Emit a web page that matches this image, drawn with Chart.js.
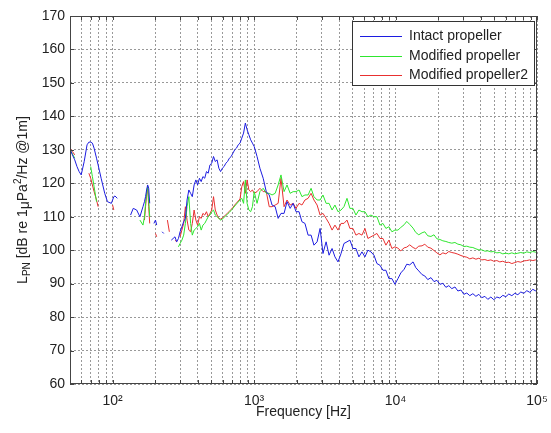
<!DOCTYPE html>
<html>
<head>
<meta charset="utf-8">
<script src="https://cdn.jsdelivr.net/npm/chart.js@4.4.1/dist/chart.umd.min.js"></script>
<style>
  html, body { margin: 0; padding: 0; background: #fff; }
  #wrap { width: 551px; height: 433px; position: relative; }
</style>
</head>
<body>
<div id="wrap"><canvas id="spectrumChart"></canvas></div>
<script>
// Tần số [Hz] - dùng chung cho cả 3 đường, null = không có dữ liệu
const freqs = [
    // 50 - 118 Hz
    50, 52, 54, 56, 58, 60, 63, 66, 68, 70,
    72, 74, 77, 79, 83, 88, 92, 98, 100, 102,
    104, 108, 118,
    // 134 - 238 Hz
    134, 140, 148, 156, 164, 168, 171, 174, 177, 180,
    183, 190, 196, 201, 205, 215, 224, 230, 238,
    // 244 - 1002 Hz
    244, 252, 260, 268, 276, 284, 292, 300, 309, 318,
    327, 336, 346, 356, 366, 377, 388, 399, 411, 423,
    435, 448, 461, 474, 488, 502, 517, 532, 548, 564,
    580, 597, 614, 632, 650, 669, 689, 709, 730, 751,
    773, 796, 819, 843, 868, 893, 919, 946, 974, 1002,
    // 1050 - 9900 Hz
    1050, 1100, 1160, 1220, 1280, 1340, 1410, 1480, 1550, 1630,
    1710, 1800, 1890, 1980, 2080, 2180, 2290, 2410, 2530, 2650,
    2790, 2930, 3070, 3230, 3390, 3560, 3730, 3920, 4120, 4320,
    4540, 4760, 5000, 5250, 5510, 5790, 6080, 6380, 6700, 7040,
    7390, 7760, 8150, 8550, 8980, 9430, 9900,
    // 10400 - 100000 Hz
    10400, 10900, 11500, 12000, 12600, 13300, 13900, 14600, 15400, 16100,
    16900, 17800, 18700, 19600, 20600, 21600, 22700, 23800, 25000, 26300,
    27600, 29000, 30400, 31900, 33500, 35200, 37000, 38800, 40700, 42800,
    44900, 47200, 49500, 52000, 54600, 57300, 60200, 63200, 66400, 69700,
    73200, 76800, 80700, 84700, 88900, 93400, 98000, 100000
];

// Intact propeller
const intact = [
    130.2, 128.5, 127, 125, 123.5, 122.5, 126.5, 131.5, 132.3, 132.3,
    132, 130.5, 127.5, 125.5, 121.5, 117, 114.5, 114, 115, 116,
    116.2, 115.5, null,
    110.5, 112.5, 112, 110, 113, 114.5, 116, 118, 119.5, 118.5,
    114, null, 108, 109, 107.5, null, 105.5, 105, null,
    null, null, 103, 103.5, 104, 102.5, 103.5, 105.5, 107, 108.5,
    109.5, 115, 118, 117, 116, 119.5, 121, 119.5, 121.5, 120.5,
    122, 121.5, 123.5, 123, 125.5, 126, 128, 126.5, 127, 124.5,
    123.5, 124.5, 125, 126, 126.5, 127.5, 128, 129, 130, 130.5,
    131.5, 132, 133.5, 135, 138, 136, 134.5, 133, 132, 131,
    128, 124.5, 121.5, 117.5, 116.5, 113.5, 113, 109.5, 111, 111,
    114.5, 112.5, 114, 111.5, 111.5, 108.5, 108, 104.5, 104.5, 101.5,
    102.5, 106.5, 99, 102.5, 98.5, 100.5, 98, 96.5, 99, 102,
    102.5, 103, 100.5, 100.5, 98, 99.5, 98, 100, 99.5, 98.5,
    96, 95.5, 94, 94, 91.5, 91.5, 89.8,
    91.5, 93.2, 94.3, 95.8, 95.6, 96.5, 94.8, 93.8, 92.7, 92.3,
    91.2, 91.8, 90.6, 91, 89.8, 90.1, 88.9, 89.4, 88.5, 89,
    87.8, 88.1, 86.8, 87.2, 86.4, 87, 86.2, 86.8, 85.8, 86.2,
    85.3, 86, 85.2, 86, 85.7, 86.5, 86.1, 86.9, 86.4, 87.1,
    86.7, 87.5, 87.1, 87.9, 87.4, 88.3, 87.8, 88.2
];

// Modified propeller
const modified = [
    130, 128.8, 127.5, null, null, null, null, null, null, 125,
    122, 119, 114.5, null, null, null, null, null, null, null,
    null, null, null,
    null, null, null, 109, 107.5, 110, 114, 117, 119, 115,
    110, null, null, null, null, null, null, null, null,
    null, null, null, null, null, null, 101, 102, 103, 104.5,
    108, 113, 116, 108, 104.5, 106, 106.5, 107, 108, 106,
    107.5, 108, 109, 110, 110.5, 111.5, 112, 110.5, 110, 109.5,
    109, 109.3, 109.8, 110.3, 110.8, 111.3, 111.9, 112.5, 113.2, 113.8,
    114.4, 115, 115.5, 114, 121, 114, 112, 111.5, 113, 117.5,
    114, 117.5, 118.5, 117, 117, 116.5, 117, 119.5, 122.5, 117.5,
    119.5, 117, 117.5, 117.5, 118, 116, 116.5, 116.5, 118.5, 116,
    115, 115, 116.5, 114, 114, 112, 113.5, 111.5, 112, 113,
    115.5, 112.5, 112.5, 110.5, 112, 111.5, 111.5, 110, 110.5, 110,
    110, 107.5, 108, 106.5, 107, 105.5, 106,
    106, 106.8, 107.6, 108.6, 107.7, 106.6, 105.3, 104.6, 105.2, 105.5,
    104.3, 104.1, 104.6, 103.4, 103.2, 102.8, 102.6, 102.3, 102.1, 102.3,
    101.8, 101.6, 101.1, 101.2, 100.9, 100.8, 100.4, 100.1, 100.1, 99.7,
    99.8, 99.5, 99.6, 99.2, 99.3, 98.9, 99.1, 98.9, 99.2, 98.9,
    99.1, 99.3, 99.1, 99.5, 99.3, 99.6, 99.4, 99.6
];

// Modified propeller2
const modified2 = [
    130.5, 129.5, 128.5, null, null, null, null, null, 123, 121.5,
    119.5, 117.5, 115, 113, null, null, null, null, 113.5, 112,
    null, null, null,
    null, null, null, null, null, 109, 113, 116.5, 119, 113,
    108, null, null, 105, 104, null, null, null, null,
    109, 105.5, null, null, 103, 102.5, null, 104, 106, 108,
    113, 109, 106, 105.5, 108, 112, 109, 107.5, 110, 109.5,
    111, 110.5, 111.5, 110, 111, 112, 116, 112, 110.5, 109.5,
    109.3, 109.6, 110.1, 110.6, 111.1, 111.6, 112.2, 112.8, 113.5, 114.1,
    114.7, 115.3, 119, 120.5, 117, 121, 118, 117.5, 118, 117,
    117.5, 118.5, 117.5, 117.5, 113, 113, 113.5, 114, 121.5, 113,
    115, 113.5, 114, 112.5, 114, 113.5, 115, 115.5, 117, 115,
    113.5, 110.5, 111, 109.5, 108, 106, 107.5, 106, 108, 108,
    109, 106.5, 106.5, 104.5, 105, 104.5, 106.5, 103.5, 104, 104.5,
    105, 103.5, 103.5, 101.5, 103, 100.5, 101,
    100.6, 99.8, 100.7, 100.9, 101.6, 100.8, 100.4, 101.2, 101.3, 101.8,
    100.9, 100.6, 99.9, 99.2, 98.6, 99.2, 98.9, 99.6, 99.3, 99.1,
    98.8, 98.4, 98.1, 97.9, 97.4, 97.7, 97.3, 97.6, 97.1, 97.2,
    96.9, 97.1, 96.7, 96.9, 96.5, 96.7, 96.3, 96.4, 96, 96.3,
    96.6, 96.4, 96.8, 96.9, 97.1, 96.9, 97.1, 97.1
];

const seriesNames = ['Intact propeller', 'Modified propeller', 'Modified propeller2'];

// Vạch chia trục x (log) và trục y
const xTickValues = [
    50, 60, 70, 80, 90,
    100, 200, 300, 400, 500, 600, 700, 800, 900,
    1000, 2000, 3000, 4000, 5000, 6000, 7000, 8000, 9000,
    10000, 20000, 30000, 40000, 50000, 60000, 70000, 80000, 90000,
    100000
];
const xTickLabels = { 100: '10²', 1000: '10³', 10000: '10⁴', 100000: '10⁵' };
const yTickValues = [60, 70, 80, 90, 100, 110, 120, 130, 140, 150, 160, 170];

const seriesColors = ['#1c1ce0', '#2ee62e', '#e83030'];
const FONT = '"Liberation Sans", Arial, Helvetica, sans-serif';

[intact, modified, modified2].forEach((arr, i) => {
    if (arr.length !== freqs.length) console.error('length mismatch', seriesNames[i], arr.length, freqs.length);
});

function toPoints(values) {
    return freqs.map((f, i) => ({ x: f, y: values[i] }));
}

// Khung, vạch chia hướng vào trong, chú thích và nhãn trục y
const framePlugin = {
    id: 'frame',
    afterDraw(chart) {
        const { ctx, chartArea: a, scales: { x, y } } = chart;
        ctx.save();
        ctx.strokeStyle = '#444';
        ctx.lineWidth = 1;
        ctx.strokeRect(a.left + 0.5, a.top + 0.5, a.right - a.left - 1, a.bottom - a.top - 1);

        ctx.beginPath();
        xTickValues.forEach(v => {
            const px = Math.round(x.getPixelForValue(v)) + 0.5;
            ctx.moveTo(px, a.bottom); ctx.lineTo(px, a.bottom - 4);
            ctx.moveTo(px, a.top); ctx.lineTo(px, a.top + 4);
        });
        yTickValues.forEach(v => {
            const py = Math.round(y.getPixelForValue(v)) + 0.5;
            ctx.moveTo(a.left, py); ctx.lineTo(a.left + 4, py);
            ctx.moveTo(a.right, py); ctx.lineTo(a.right - 4, py);
        });
        ctx.stroke();

        // Chú thích
        const lw = 182, lh = 64;
        const lx = a.right - lw - 3, ly = a.top + 5;
        ctx.fillStyle = '#fff';
        ctx.fillRect(lx, ly, lw, lh);
        ctx.strokeStyle = '#333';
        ctx.strokeRect(lx + 0.5, ly + 0.5, lw, lh);
        ctx.font = '14px ' + FONT;
        ctx.textBaseline = 'middle';
        ctx.textAlign = 'left';
        chart.data.datasets.forEach((ds, i) => {
            const cy = Math.round(ly + 15 + i * 19.7) + 0.5;
            ctx.strokeStyle = ds.borderColor;
            ctx.beginPath();
            ctx.moveTo(lx + 8, cy); ctx.lineTo(lx + 50, cy);
            ctx.stroke();
            ctx.fillStyle = '#222';
            ctx.fillText(ds.label, lx + 57, cy);
        });

        // Nhãn trục y: L_PN [dB re 1μPa²/Hz @1m]
        const parts = [
            { t: 'L', s: 14, d: 0 },
            { t: 'PN', s: 10, d: 3 },
            { t: ' [dB re 1', s: 14, d: 0 },
            { t: 'μ', s: 14, d: 2 },
            { t: 'Pa', s: 14, d: 0 },
            { t: '2', s: 10, d: -6 },
            { t: '/Hz @1m]', s: 14, d: 0 }
        ];
        let total = 0;
        parts.forEach(p => { ctx.font = p.s + 'px ' + FONT; p.w = ctx.measureText(p.t).width; total += p.w; });
        ctx.translate(27, (a.top + a.bottom) / 2);
        ctx.rotate(-Math.PI / 2);
        ctx.textBaseline = 'alphabetic';
        ctx.fillStyle = '#222';
        let cx = -total / 2;
        parts.forEach(p => {
            ctx.font = p.s + 'px ' + FONT;
            ctx.fillText(p.t, cx, p.d);
            cx += p.w;
        });
        ctx.restore();
    }
};

const ctx = document.getElementById('spectrumChart').getContext('2d');

new Chart(ctx, {
    type: 'line',
    data: {
        datasets: [intact, modified, modified2].map((values, i) => ({
            label: seriesNames[i],
            data: toPoints(values),
            borderColor: seriesColors[i],
            backgroundColor: seriesColors[i],
            borderWidth: 1,
            pointRadius: 0,
            tension: 0,
            spanGaps: false
        }))
    },
    options: {
        responsive: true,
        maintainAspectRatio: false,
        animation: false,
        layout: { padding: { top: 16, right: 14, left: 0, bottom: 0 } },
        plugins: {
            legend: { display: false },
            tooltip: { enabled: false }
        },
        scales: {
            x: {
                type: 'logarithmic',
                min: 50,
                max: 100000,
                afterBuildTicks: scale => {
                    scale.ticks = xTickValues.map(v => ({ value: v }));
                },
                afterFit: scale => {
                    scale.height = 49;
                    // nhãn 10^5 được phép tràn ra lề phải
                    scale.paddingLeft = 0;
                    scale.paddingRight = 0;
                },
                ticks: {
                    autoSkip: false,
                    maxRotation: 0,
                    padding: 9,
                    color: '#222',
                    font: { family: FONT, size: 14 },
                    callback: value => xTickLabels[value] || ''
                },
                grid: { color: '#999', lineWidth: 1, drawTicks: false },
                border: { display: false, dash: [2, 2] },
                title: {
                    display: true,
                    text: 'Frequency [Hz]',
                    color: '#222',
                    font: { family: FONT, size: 14 },
                    padding: { top: 0, bottom: 12 }
                }
            },
            y: {
                min: 60,
                max: 170,
                afterBuildTicks: scale => {
                    scale.ticks = yTickValues.map(v => ({ value: v }));
                },
                afterFit: scale => { scale.width = 70; },
                ticks: {
                    padding: 5,
                    color: '#222',
                    font: { family: FONT, size: 14 }
                },
                grid: { color: '#999', lineWidth: 1, drawTicks: false },
                border: { display: false, dash: [2, 2] }
            }
        }
    },
    plugins: [framePlugin]
});
</script>
</body>
</html>
